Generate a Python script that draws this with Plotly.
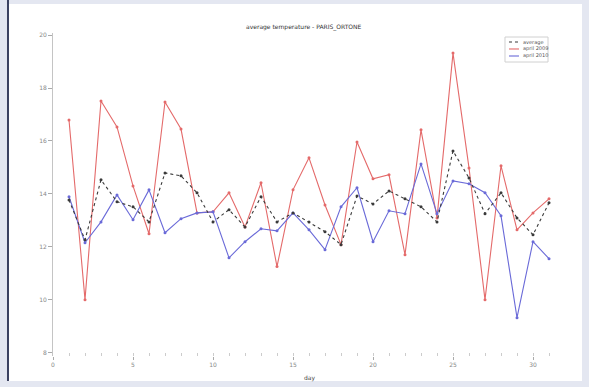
import plotly.graph_objects as go

# Day of month
days = list(range(1, 32))

# Daily temperatures (°C)
avg_temp = [13.77, 12.26, 14.53, 13.70, 13.51, 12.94, 14.79, 14.68, 14.04, 12.94,
            13.40, 12.75, 13.89, 12.94, 13.28, 12.94, 12.57, 12.08, 13.92, 13.62,
            14.11, 13.81, 13.51, 12.94, 15.62, 14.60, 13.25, 14.04, 13.09, 12.45,
            13.66]
temp_2009 = [16.79, 10.00, 17.51, 16.53, 14.30, 12.49, 17.47, 16.45, 13.28, 13.32,
             14.04, 12.75, 14.42, 11.25, 14.15, 15.36, 13.58, 12.08, 15.96, 14.57,
             14.72, 11.70, 16.42, 13.09, 19.32, 14.98, 10.00, 15.06, 12.64, 13.28,
             13.81]
temp_2010 = [13.89, 12.15, 12.94, 13.96, 13.02, 14.15, 12.53, 13.06, 13.28, 13.32,
             11.58, 12.19, 12.68, 12.60, 13.28, 12.64, 11.89, 13.51, 14.23, 12.19,
             13.36, 13.25, 15.13, 13.25, 14.49, 14.38, 14.04, 13.17, 9.32, 12.19,
             11.55]

series_names = ["average", "april 2009", "april 2010"]
series_colors = ["#3a3a3a", "#e46a6a", "#6a6ad8"]
series_dash = ["dot", "solid", "solid"]
x_ticks = [0, 5, 10, 15, 20, 25, 30]
y_ticks = [8, 10, 12, 14, 16, 18, 20]

fig = go.Figure()
for name, vals, col, dash in zip(series_names[1:] + series_names[:1],
                                 [temp_2009, temp_2010, avg_temp],
                                 series_colors[1:] + series_colors[:1],
                                 series_dash[1:] + series_dash[:1]):
    fig.add_trace(go.Scatter(
        x=days, y=vals, name=name, mode="lines+markers",
        line=dict(color=col, width=1.1, dash=dash),
        marker=dict(size=3, color=col)))

# page frame: white panel with a dark left edge on a lavender page
shapes = [
    dict(type="rect", xref="paper", yref="paper", x0=-0.0859, x1=1.0332,
         y0=-0.0774, y1=1.0898, fillcolor="white", line=dict(width=0), layer="below"),
    dict(type="line", xref="paper", yref="paper", x0=-0.0879, x1=-0.0879,
         y0=-0.0774, y1=1.105, line=dict(color="#3c4260", width=2)),
    # compact legend box
    dict(type="rect", xref="paper", yref="paper", x0=0.8828, x1=0.9668,
         y0=0.9102, y1=0.9876, fillcolor="white",
         line=dict(color="#d0d0d0", width=1)),
]
annotations = [
    dict(text="average temperature - PARIS_ORTONE", xref="paper", yref="paper",
         x=0.49, y=1.0, yanchor="bottom", showarrow=False,
         font=dict(size=6, color="#333")),
    dict(text="day", xref="paper", yref="paper", x=0.5, y=-0.05,
         yanchor="top", showarrow=False, font=dict(size=6, color="#444")),
]
legend_rows = [0.9721, 0.9505, 0.9288]
for name, col, dash, ly in zip(series_names, series_colors, series_dash, legend_rows):
    shapes.append(dict(type="line", xref="paper", yref="paper", x0=0.8906, x1=0.9102,
                       y0=ly, y1=ly, line=dict(color=col, width=1.1, dash=dash)))
    annotations.append(dict(text=name, xref="paper", yref="paper", x=0.915, y=ly,
                            xanchor="left", yanchor="middle", showarrow=False,
                            font=dict(size=5, color="#555")))

fig.update_layout(
    width=589, height=387,
    margin=dict(l=53, r=24, t=33, b=31),
    paper_bgcolor="#e4e7f1",
    plot_bgcolor="white",
    font=dict(family="DejaVu Sans", size=6, color="#888"),
    shapes=shapes,
    annotations=annotations,
    showlegend=False,
)

fig.update_xaxes(
    range=[0, 32], tickvals=x_ticks, ticks="outside", ticklen=3,
    tickcolor="#aaa", showgrid=False, zeroline=False, showline=False,
    tickfont=dict(size=6, color="#888"),
    minor=dict(tickvals=days, ticks="inside", ticklen=3, tickcolor="#ccc"),
)
fig.update_yaxes(
    range=[7.87, 20.08], tickvals=y_ticks, ticks="outside", ticklen=4,
    tickcolor="#aaa", showgrid=False, zeroline=False, showline=True,
    linecolor="#c4c4c4", linewidth=1, tickfont=dict(size=6, color="#888"),
)

fig.write_html("out.html")
